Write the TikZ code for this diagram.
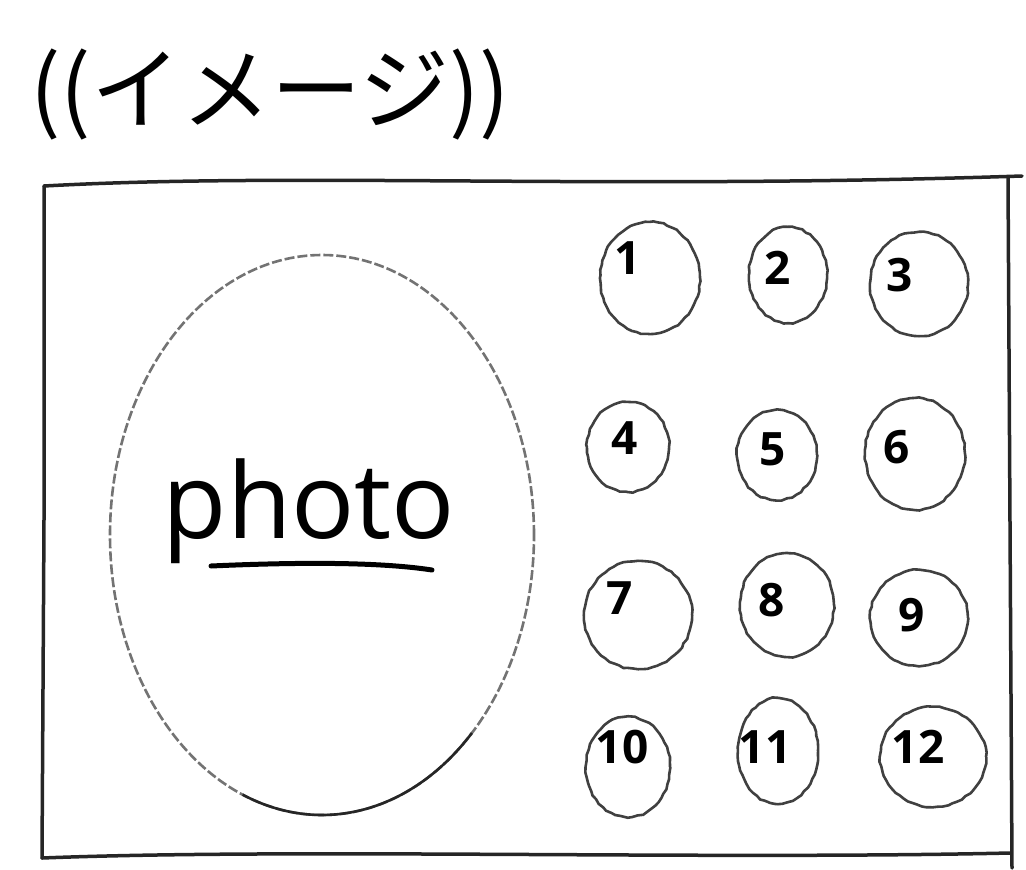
\documentclass[tikz,border=0pt]{standalone}
\usepackage{fontspec}
\setmainfont{Open Sans}
\newfontfamily\jpfont{Noto Sans CJK JP}
\usetikzlibrary{shapes.geometric,decorations.pathmorphing}
\tikzset{
  frame/.style={line width=3.5pt, line join=round, line cap=round, black!85},
  photoellipse/.style={ellipse, draw=black!55, line width=2.6pt, dash pattern=on 10pt off 3pt, inner sep=0pt},
  numcirc/.style={ellipse, draw=black!75, line width=2.6pt, inner sep=0pt,
    decorate, decoration={random steps, segment length=5pt, amplitude=0.7pt}},
  numtext/.style={font=\bfseries\fontsize{46}{50}\selectfont, inner sep=0pt},
}
\begin{document}
\begin{tikzpicture}[x=1pt,y=-1pt]
\useasboundingbox (0,0) rectangle (1026,870);
% title
\node[anchor=west, inner sep=0pt, font=\jpfont\fontsize{90}{94}\selectfont] (title) at (30,95) {((イメージ))};
% frame
\coordinate (tl) at (44,186);
\coordinate (tr) at (1022,176);
\coordinate (rt) at (1008,178);
\coordinate (rb) at (1012,868);
\coordinate (bl) at (42,858);
\coordinate (br) at (1010,853);
\draw[frame] (tl) .. controls (300,172) and (600,190) .. (tr);
\draw[frame] (rt) -- (rb);
\draw[frame] (bl) .. controls (300,848) and (700,860) .. (br);
\draw[frame] (tl) -- (44,520) -- (bl);
% photo ellipse
\node[photoellipse, minimum width=424pt, minimum height=560pt] (photo) at (322,535) {};
\draw[line width=2.6pt, black!85] (322,535) ++(45:212 and 280) arc[start angle=45, end angle=112, x radius=212, y radius=280];
\node[anchor=base, inner sep=0pt, font=\fontsize{105}{110}\selectfont] (phototext) at (309,538) {photo};
\coordinate (ul) at (211,566);
\coordinate (ur) at (432,570);
\draw[line width=5pt, line cap=round] (ul) .. controls (300,562) and (380,562) .. (ur);
% number circles
\node[numcirc, minimum width=100pt, minimum height=112pt] (c1) at (650,278) {};
\node[numcirc, minimum width=78pt, minimum height=96pt] (c2) at (788,275) {};
\node[numcirc, minimum width=98pt, minimum height=104pt] (c3) at (919,284) {};
\node[numcirc, minimum width=82pt, minimum height=90pt] (c4) at (628,447) {};
\node[numcirc, minimum width=80pt, minimum height=90pt] (c5) at (777,455) {};
\node[numcirc, minimum width=100pt, minimum height=112pt] (c6) at (915,454) {};
\node[numcirc, minimum width=108pt, minimum height=108pt] (c7) at (638,615) {};
\node[numcirc, minimum width=94pt, minimum height=104pt] (c8) at (787,605) {};
\node[numcirc, minimum width=98pt, minimum height=96pt] (c9) at (919,618) {};
\node[numcirc, minimum width=84pt, minimum height=100pt] (c10) at (628,767) {};
\node[numcirc, minimum width=80pt, minimum height=106pt] (c11) at (778,751) {};
\node[numcirc, minimum width=106pt, minimum height=100pt] (c12) at (933,757) {};
% numbers
\node[numtext] (n1) at (628,258) {1};
\node[numtext] (n2) at (778,268) {2};
\node[numtext] (n3) at (900,275) {3};
\node[numtext] (n4) at (625,438) {4};
\node[numtext] (n5) at (773,449) {5};
\node[numtext] (n6) at (897,447) {6};
\node[numtext] (n7) at (620,598) {7};
\node[numtext] (n8) at (772,600) {8};
\node[numtext] (n9) at (912,615) {9};
\node[numtext] (n10) at (622,747) {10};
\node[numtext] (n11) at (765,747) {11};
\node[numtext] (n12) at (918,747) {12};
\end{tikzpicture}
\end{document}
